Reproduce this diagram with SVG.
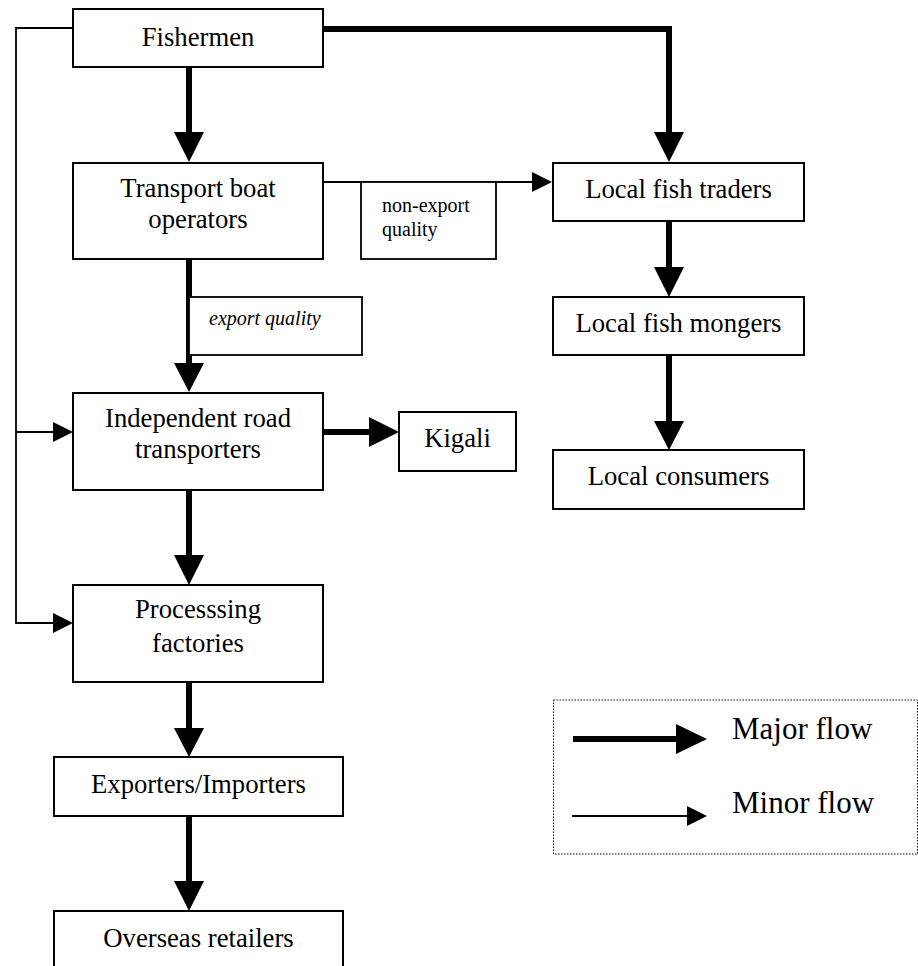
<svg xmlns="http://www.w3.org/2000/svg" width="918" height="966" viewBox="0 0 918 966">
<style>
.box{fill:#fff;stroke:#000;stroke-width:2}
.lbl{fill:#fff;stroke:#000;stroke-width:1.8}
.t{font-family:"Liberation Serif","Times New Roman",serif;font-size:26.7px;fill:#000;text-anchor:middle}
.s{font-family:"Liberation Serif","Times New Roman",serif;font-size:20px;fill:#000}
.leg{font-family:"Liberation Serif","Times New Roman",serif;font-size:31px;fill:#000}
.major{fill:none;stroke:#000;stroke-width:6}
.minor{fill:none;stroke:#000;stroke-width:1.8}
.head{fill:#000;stroke:none}
</style>
<rect width="918" height="966" fill="#fff"/>
<g id="connectors">
  <!-- minor left loop -->
  <polyline class="minor" points="73,28 16,28 16,623 55,623"/>
  <line class="minor" x1="16" y1="432" x2="55" y2="432"/>
  <polygon class="head" points="53,422 73,432 53,442"/>
  <polygon class="head" points="53,613 73,623 53,633"/>
  <!-- Fishermen -> Transport -->
  <line class="major" x1="189" y1="67" x2="189" y2="134"/>
  <polygon class="head" points="174,132 204,132 189,162"/>
  <!-- Fishermen -> Local fish traders -->
  <polyline class="major" points="323,29 669,29 669,134"/>
  <polygon class="head" points="654,132 684,132 669,162"/>
  <!-- Transport -> Local fish traders (minor) -->
  <line class="minor" x1="323" y1="182" x2="534" y2="182"/>
  <polygon class="head" points="532,172 552,182 532,192"/>
  <!-- Transport -> Independent -->
  <line class="major" x1="189" y1="259" x2="189" y2="365"/>
  <polygon class="head" points="174,363 204,363 189,392"/>
  <!-- Independent -> Kigali -->
  <line class="major" x1="323" y1="432" x2="371" y2="432"/>
  <polygon class="head" points="369,417 399,432 369,447"/>
  <!-- Independent -> Processing -->
  <line class="major" x1="189" y1="490" x2="189" y2="557"/>
  <polygon class="head" points="174,555 204,555 189,585"/>
  <!-- Processing -> Exporters -->
  <line class="major" x1="189" y1="682" x2="189" y2="730"/>
  <polygon class="head" points="174,728 204,728 189,757"/>
  <!-- Exporters -> Overseas -->
  <line class="major" x1="189" y1="816" x2="189" y2="883"/>
  <polygon class="head" points="174,881 204,881 189,911"/>
  <!-- Traders -> Mongers -->
  <line class="major" x1="669" y1="221" x2="669" y2="269"/>
  <polygon class="head" points="654,267 684,267 669,297"/>
  <!-- Mongers -> Consumers -->
  <line class="major" x1="669" y1="355" x2="669" y2="423"/>
  <polygon class="head" points="654,421 684,421 669,450"/>
</g>
<g id="label-nonexport">
  <rect class="lbl" x="361" y="182" width="135" height="77"/>
  <text class="s" x="382" y="212">non-export</text>
  <text class="s" x="382" y="236">quality</text>
</g>
<g id="label-export">
  <rect class="lbl" x="189" y="297" width="173" height="58"/>
  <text class="s" x="209" y="325" font-style="italic">export quality</text>
</g>
<g id="fishermen">
  <rect class="box" x="73" y="9" width="250" height="58"/>
  <text class="t" x="198" y="46">Fishermen</text>
</g>
<g id="transport">
  <rect class="box" x="73" y="163" width="250" height="96"/>
  <text class="t" x="198" y="197">Transport boat</text>
  <text class="t" x="198" y="228">operators</text>
</g>
<g id="independent">
  <rect class="box" x="73" y="393" width="250" height="97"/>
  <text class="t" x="198" y="427">Independent road</text>
  <text class="t" x="198" y="458">transporters</text>
</g>
<g id="kigali">
  <rect class="box" x="399" y="412" width="117" height="59"/>
  <text class="t" x="457.5" y="447">Kigali</text>
</g>
<g id="processing">
  <rect class="box" x="73" y="585" width="250" height="97"/>
  <text class="t" x="198" y="618">Processsing</text>
  <text class="t" x="198" y="652">factories</text>
</g>
<g id="exporters">
  <rect class="box" x="54" y="757" width="289" height="59"/>
  <text class="t" x="198.5" y="793">Exporters/Importers</text>
</g>
<g id="overseas">
  <rect class="box" x="54" y="911" width="289" height="70"/>
  <text class="t" x="198.5" y="947">Overseas retailers</text>
</g>
<g id="traders">
  <rect class="box" x="553" y="163" width="251" height="58"/>
  <text class="t" x="678.5" y="198">Local fish traders</text>
</g>
<g id="mongers">
  <rect class="box" x="553" y="297" width="251" height="58"/>
  <text class="t" x="678.5" y="332">Local fish mongers</text>
</g>
<g id="consumers">
  <rect class="box" x="553" y="450" width="251" height="59"/>
  <text class="t" x="678.5" y="485">Local consumers</text>
</g>
<g id="legend">
  <rect x="553.5" y="700" width="364" height="154" fill="none" stroke="#000" stroke-width="1" stroke-dasharray="1.5,1.5"/>
  <line class="major" x1="573" y1="739" x2="678" y2="739" stroke-width="7"/>
  <polygon class="head" points="676,724 707,739 676,754"/>
  <line class="minor" x1="572" y1="816" x2="688" y2="816"/>
  <polygon class="head" points="687,806 707,816 687,826"/>
  <text class="leg" x="732" y="739">Major flow</text>
  <text class="leg" x="732" y="813">Minor flow</text>
</g>
</svg>
